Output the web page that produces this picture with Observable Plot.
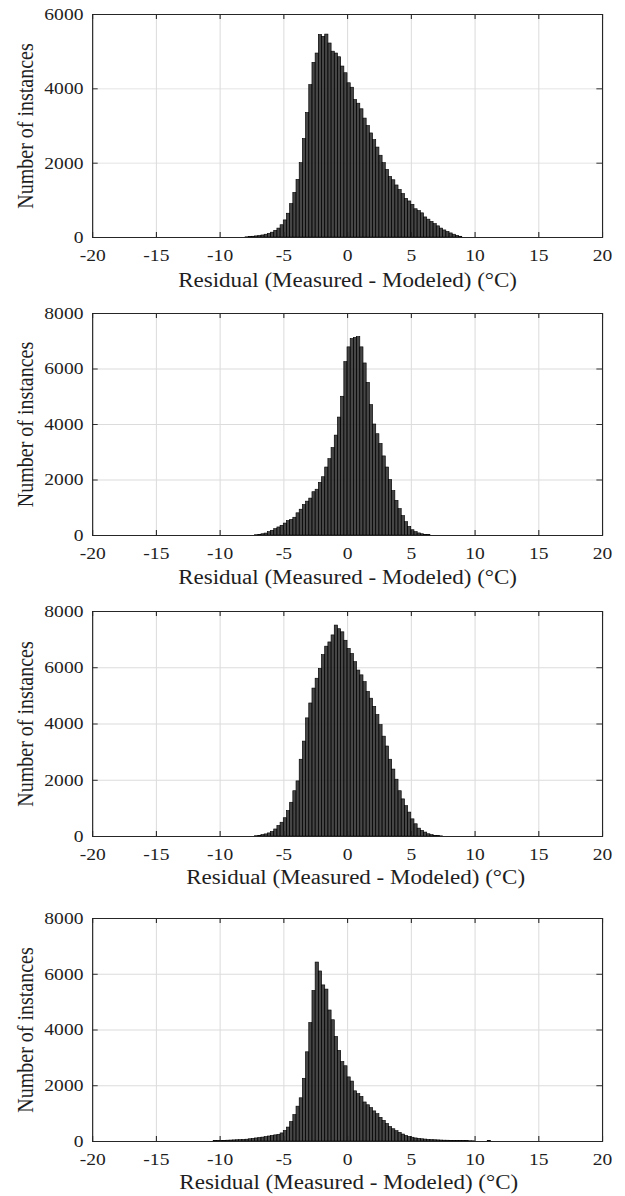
<!DOCTYPE html>
<html>
<head>
<meta charset="utf-8">
<script src="https://cdn.jsdelivr.net/npm/d3@7"></script>
<script src="https://cdn.jsdelivr.net/npm/@observablehq/plot@0.6"></script>
<style>
html, body { margin: 0; padding: 0; background: #fff; }
#wrap { width: 543px; transform: scaleX(1.151); transform-origin: 0 0; }
#wrap svg { display: block; }
</style>
</head>
<body>
<div id="wrap"></div>
<script>
// ---- data ----
const binWidth = 0.25;
const xTicks = [-20, -15, -10, -5, 0, 5, 10, 15, 20];
const yTicksA = [0, 2000, 4000, 6000];
const yTicksB = [0, 2000, 4000, 6000, 8000];
const xLabel = "Residual (Measured - Modeled) (°C)";
const yLabel = "Number of instances";

// panel 1: bins start at -8
const start1 = -8;
const counts1 = [5, 10, 20, 30, 40, 55, 75, 100, 130, 180, 240, 330, 460, 640, 900, 1200, 1550, 2000, 2650, 3350,
  4100, 4700, 4950, 5450, 5400, 5460, 5220, 5000, 4950, 4850, 4600, 4420, 4150, 4030, 3700, 3600, 3450, 3200, 3000, 2800,
  2620, 2420, 2200, 2000, 1820, 1630, 1540, 1400, 1280, 1170, 1040, 970, 880, 760, 710, 650, 540, 480, 420, 360,
  300, 240, 190, 150, 110, 75, 45, 20];

// panel 2: bins start at -7.25
const start2 = -7.25;
const counts2 = [10, 25, 45, 70, 120, 170, 230, 290, 350, 430, 520, 560, 640, 800, 930, 1100, 1220, 1330, 1560, 1650,
  1900, 2100, 2450, 2750, 3150, 3600, 4250, 5000, 6250, 6780, 7080, 7120, 7150, 6780, 6200, 5500, 4700, 4000, 3650, 3300,
  2850, 2450, 2000, 1600, 1250, 950, 700, 480, 310, 190, 120, 75, 45, 25, 12];

// panel 3: bins start at -7.25
const start3 = -7.25;
const counts3 = [10, 25, 50, 75, 110, 160, 250, 375, 490, 650, 905, 1200, 1610, 1960, 2730, 3375, 4200, 4730, 5260, 5610,
  5960, 6450, 6750, 6900, 7150, 7500, 7370, 7260, 6960, 6670, 6490, 6200, 5900, 5730, 5490, 5140, 4900, 4610, 4320, 3960,
  3550, 3200, 2730, 2380, 2020, 1610, 1320, 1080, 850, 610, 435, 280, 200, 140, 80, 47, 24, 12, 5];

// panel 4: bins start at -10.5
const start4 = -10.5;
const counts4 = [25, 15, 20, 25, 30, 35, 40, 45, 50, 55, 65, 80, 95, 110, 125, 140, 160, 180, 200, 220,
  240, 290, 380, 500, 700, 950, 1250, 1550, 2250, 3200, 4250, 5400, 6420, 6100, 5600, 5450, 4700, 4350, 3750, 3250,
  2850, 2700, 2300, 2150, 1800, 1700, 1600, 1400, 1300, 1200, 1080, 980, 850, 740, 630, 520, 440, 370, 310, 250,
  200, 165, 135, 110, 95, 80, 70, 60, 50, 45, 40, 35, 30, 28, 25, 22, 20, 18, 15, 12,
  10, 8, 0, 0, 0, 0, 25];

const panels = [
  {start: start1, counts: counts1, yMax: 6000, yTicks: yTicksA, height: 300, mt: 14, mb: 63, labelDy: 35, labelDx: 0},
  {start: start2, counts: counts2, yMax: 8000, yTicks: yTicksB, height: 298, mt: 13, mb: 63, labelDy: 34, labelDx: 0},
  {start: start3, counts: counts3, yMax: 8000, yTicks: yTicksB, height: 307, mt: 13, mb: 69, labelDy: 33, labelDx: 7},
  {start: start4, counts: counts4, yMax: 8000, yTicks: yTicksB, height: 291, mt: 13, mb: 55, labelDy: 33, labelDx: 1}
];

const FONT = '"Liberation Serif", "Times New Roman", Times, serif';
const INK = "#1e1e1e";

function panel(p) {
  const bins = p.counts
    .map((c, i) => ({x0: p.start + i * binWidth, x1: p.start + (i + 1) * binWidth, c}))
    .filter(d => d.c > 0);
  const tickLenY = p.yMax * 0.022;
  const tickLenX = 40 * 0.011;
  return Plot.plot({
    width: 543,
    height: p.height,
    marginLeft: 80,
    marginRight: 20,
    marginTop: p.mt,
    marginBottom: p.mb,
    style: {fontFamily: FONT, background: "#fff", color: INK, overflow: "visible"},
    x: {domain: [-20, 20]},
    y: {domain: [0, p.yMax]},
    marks: [
      Plot.ruleX(xTicks, {x: d => d, stroke: "#dcdcdc", strokeWidth: 0.9}),
      Plot.ruleY(p.yTicks, {y: d => d, stroke: "#dcdcdc", strokeWidth: 0.9}),
      Plot.rectY(bins, {x1: "x0", x2: "x1", y1: 0, y2: "c", fill: "#262626", fillOpacity: 0.85,
        stroke: "#000", strokeWidth: 0.6}),
      Plot.ruleX(xTicks, {x: d => d, y1: 0, y2: tickLenY, stroke: INK, strokeWidth: 0.9}),
      Plot.ruleX(xTicks, {x: d => d, y1: p.yMax - tickLenY, y2: p.yMax, stroke: INK, strokeWidth: 0.9}),
      Plot.ruleY(p.yTicks, {y: d => d, x1: -20, x2: -20 + tickLenX, stroke: INK, strokeWidth: 0.9}),
      Plot.ruleY(p.yTicks, {y: d => d, x1: 20 - tickLenX, x2: 20, stroke: INK, strokeWidth: 0.9}),
      Plot.frame({stroke: "#262626", strokeWidth: 1}),
      Plot.axisX(xTicks, {tickSize: 0, tickPadding: 11, fontSize: 17, fontFamily: FONT, tickFormat: d => String(d), label: null}),
      Plot.axisY(p.yTicks, {tickSize: 0, tickPadding: 8, fontSize: 17, fontFamily: FONT, tickFormat: d => String(d), label: null}),
      Plot.text([xLabel], {text: d => d, frameAnchor: "bottom", lineAnchor: "top", textAnchor: "middle",
        dy: p.labelDy, dx: p.labelDx, fontSize: 20, fontFamily: FONT, fill: INK}),
      Plot.text([yLabel], {text: d => d, frameAnchor: "left", textAnchor: "middle", rotate: -90, dx: -58,
        fontSize: 20, fontFamily: FONT, fill: INK})
    ]
  });
}

const wrap = document.getElementById("wrap");
for (const p of panels) wrap.appendChild(panel(p));
</script>
</body>
</html>
